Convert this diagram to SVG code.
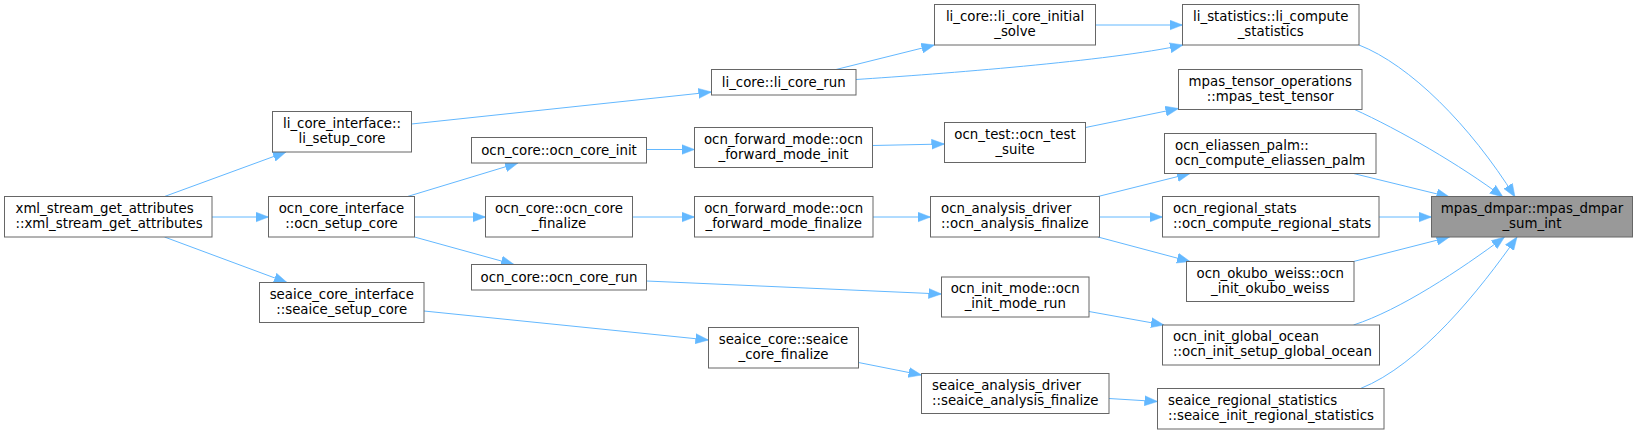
<svg xmlns="http://www.w3.org/2000/svg" width="1637" height="435" viewBox="0 0 1637 435">
<style>
.n rect{fill:#fff;stroke:#666;stroke-width:1}
.n text{font-family:"DejaVu Sans",sans-serif;font-size:13.33px;fill:#000}
.c{text-anchor:middle}
#n_dmpar rect{fill:#999}
.e path{fill:none;stroke:#63b8ff;stroke-width:1;marker-end:url(#ah)}
</style>
<defs>
<marker id="ah" markerUnits="userSpaceOnUse" markerWidth="14" markerHeight="11" viewBox="0 0 14 11" refX="13" refY="5.5" orient="auto">
<path d="M0,0.5 L13,5.5 L0,10.5 z" fill="#63b8ff" stroke="#63b8ff" stroke-width="0.5"/>
</marker>
</defs>
<rect width="1637" height="435" fill="#fff"/>
<g id="edges" class="e">
<path d="M164.5,196.5 L286,152"/>
<path d="M211.5,217 L268.5,217"/>
<path d="M164.5,237 L287,282.5"/>
<path d="M411.5,124 L711.5,92"/>
<path d="M407.5,196.5 L518,163"/>
<path d="M414.5,217 L485.5,217"/>
<path d="M414.5,237 L514,264.5"/>
<path d="M424,311 L708.5,340"/>
<path d="M836,69.5 L934.5,45"/>
<path d="M856,79.5 C940,74 1110,61 1183,45"/>
<path d="M1095.5,25 L1182.5,25"/>
<path d="M646.5,149.5 L694.5,149.5"/>
<path d="M872.5,145.5 L944.5,144"/>
<path d="M1085.5,127.5 L1178.5,108.5"/>
<path d="M632.5,217 L694.5,217"/>
<path d="M873,217 L930.5,217"/>
<path d="M1098,196.5 L1190,173.5"/>
<path d="M1099.5,217 L1162.5,217"/>
<path d="M1098,237 L1190,261.5"/>
<path d="M646.5,281 L941.5,294"/>
<path d="M1089,311.5 L1164,325"/>
<path d="M858.5,362.5 L921.5,375"/>
<path d="M1109,398.5 L1157.5,401.5"/>
<path d="M1359,45 C1410,65 1470,125 1515,197"/>
<path d="M1353.5,109 C1400,130 1460,165 1503,197"/>
<path d="M1353.5,173.5 L1449.5,197"/>
<path d="M1379,217 L1431.5,217"/>
<path d="M1353.5,261.5 L1449.5,237"/>
<path d="M1353.5,325 C1400,310 1460,270 1504.5,237"/>
<path d="M1360.5,388.5 C1420,365 1480,290 1517,237"/>
</g>
<g id="n_xml" class="n"><rect x="4.5" y="196.5" width="207.5" height="40.5"/><text x="15.5" y="212.8">xml_stream_get_attributes</text><text x="15.5" y="227.8">::xml_stream_get_attributes</text></g>
<g id="n_li_setup" class="n"><rect x="272.5" y="111.5" width="139" height="40.5"/><text class="c" x="342" y="127.8">li_core_interface::</text><text class="c" x="342" y="142.8">li_setup_core</text></g>
<g id="n_ocn_setup" class="n"><rect x="268.5" y="196.5" width="146" height="40.5"/><text class="c" x="341.5" y="212.8">ocn_core_interface</text><text class="c" x="341.5" y="227.8">::ocn_setup_core</text></g>
<g id="n_seaice_setup" class="n"><rect x="259.5" y="282.5" width="164.5" height="40"/><text class="c" x="341.75" y="298.8">seaice_core_interface</text><text class="c" x="341.75" y="313.8">::seaice_setup_core</text></g>
<g id="n_ocn_core_init" class="n"><rect x="471.5" y="137.5" width="175" height="25.5"/><text class="c" x="559" y="155">ocn_core::ocn_core_init</text></g>
<g id="n_ocn_core_finalize" class="n"><rect x="485.5" y="196.5" width="147" height="40.5"/><text class="c" x="559" y="212.8">ocn_core::ocn_core</text><text class="c" x="559" y="227.8">_finalize</text></g>
<g id="n_ocn_core_run" class="n"><rect x="471.5" y="264.5" width="175" height="25.5"/><text class="c" x="559" y="282">ocn_core::ocn_core_run</text></g>
<g id="n_li_core_run" class="n"><rect x="711.5" y="69.5" width="144.5" height="25.5"/><text class="c" x="783.75" y="87">li_core::li_core_run</text></g>
<g id="n_fwd_init" class="n"><rect x="694.5" y="127.5" width="178" height="40"/><text class="c" x="783.5" y="143.8">ocn_forward_mode::ocn</text><text class="c" x="783.5" y="158.8">_forward_mode_init</text></g>
<g id="n_fwd_finalize" class="n"><rect x="694.5" y="196.5" width="178.5" height="40.5"/><text class="c" x="783.75" y="212.8">ocn_forward_mode::ocn</text><text class="c" x="783.75" y="227.8">_forward_mode_finalize</text></g>
<g id="n_seaice_core_finalize" class="n"><rect x="708.5" y="327.5" width="150" height="40.5"/><text class="c" x="783.5" y="343.8">seaice_core::seaice</text><text class="c" x="783.5" y="358.8">_core_finalize</text></g>
<g id="n_li_initial_solve" class="n"><rect x="934.5" y="4.5" width="161" height="40.5"/><text class="c" x="1015" y="20.8">li_core::li_core_initial</text><text class="c" x="1015" y="35.8">_solve</text></g>
<g id="n_ocn_test" class="n"><rect x="944.5" y="122.5" width="141" height="40"/><text class="c" x="1015" y="138.8">ocn_test::ocn_test</text><text class="c" x="1015" y="153.8">_suite</text></g>
<g id="n_ocn_analysis" class="n"><rect x="930.5" y="196.5" width="169" height="40.5"/><text x="941" y="212.8">ocn_analysis_driver</text><text x="941" y="227.8">::ocn_analysis_finalize</text></g>
<g id="n_ocn_init_mode" class="n"><rect x="941.5" y="277" width="147.5" height="40"/><text class="c" x="1015.25" y="293.3">ocn_init_mode::ocn</text><text class="c" x="1015.25" y="308.3">_init_mode_run</text></g>
<g id="n_seaice_analysis" class="n"><rect x="921.5" y="373.5" width="187.5" height="40"/><text x="932" y="389.8">seaice_analysis_driver</text><text x="932" y="404.8">::seaice_analysis_finalize</text></g>
<g id="n_li_stats" class="n"><rect x="1182.5" y="4.5" width="176.5" height="40.5"/><text class="c" x="1270.75" y="20.8">li_statistics::li_compute</text><text class="c" x="1270.75" y="35.8">_statistics</text></g>
<g id="n_tensor" class="n"><rect x="1178.5" y="69.5" width="183.5" height="40"/><text class="c" x="1270.25" y="85.8">mpas_tensor_operations</text><text class="c" x="1270.25" y="100.8">::mpas_test_tensor</text></g>
<g id="n_eliassen" class="n"><rect x="1164.5" y="133.5" width="211.5" height="40"/><text x="1175" y="149.8">ocn_eliassen_palm::</text><text x="1175" y="164.8">ocn_compute_eliassen_palm</text></g>
<g id="n_regional_stats" class="n"><rect x="1162.5" y="196.5" width="216.5" height="40.5"/><text x="1173" y="212.8">ocn_regional_stats</text><text x="1173" y="227.8">::ocn_compute_regional_stats</text></g>
<g id="n_okubo" class="n"><rect x="1186.5" y="261.5" width="167.5" height="40"/><text class="c" x="1270.25" y="277.8">ocn_okubo_weiss::ocn</text><text class="c" x="1270.25" y="292.8">_init_okubo_weiss</text></g>
<g id="n_global_ocean" class="n"><rect x="1162.5" y="325" width="217" height="40"/><text x="1173" y="341.3">ocn_init_global_ocean</text><text x="1173" y="356.3">::ocn_init_setup_global_ocean</text></g>
<g id="n_seaice_regional" class="n"><rect x="1157.5" y="388.5" width="226.5" height="40.5"/><text x="1168" y="404.8">seaice_regional_statistics</text><text x="1168" y="419.8">::seaice_init_regional_statistics</text></g>
<g id="n_dmpar" class="n"><rect x="1431.5" y="196.5" width="201" height="40.5"/><text class="c" x="1532" y="212.8">mpas_dmpar::mpas_dmpar</text><text class="c" x="1532" y="227.8">_sum_int</text></g>
</svg>
